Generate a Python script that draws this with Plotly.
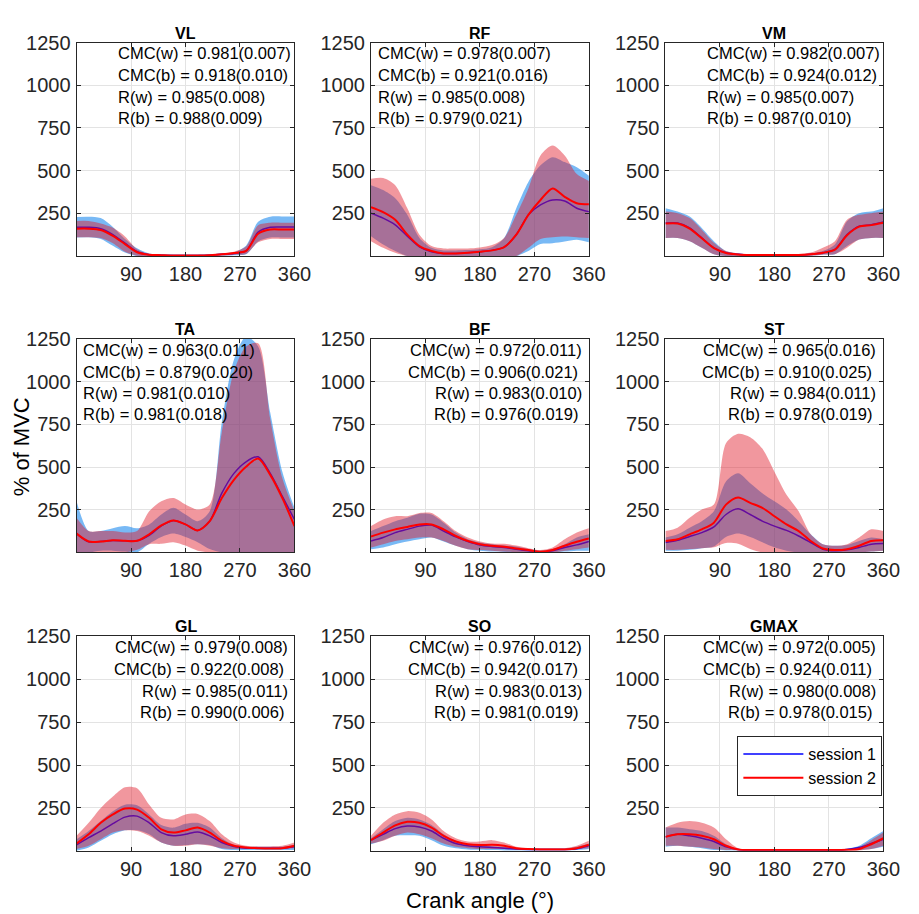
import plotly.graph_objects as go

# ---------------- data ----------------
ANGLE = [0, 20, 40, 60, 80, 100, 120, 140, 160, 180, 200, 220, 240, 260, 280, 300, 320, 340, 360]
MUSCLES = ["VL", "RF", "VM", "TA", "BF", "ST", "GL", "SO", "GMAX"]
X_TICKS = [90, 180, 270, 360]
Y_TICKS = [250, 500, 750, 1000, 1250]
SESSION_NAMES = ["session 1", "session 2"]

VL_S1_MEAN = [168, 168, 160, 125, 75, 25, 8, 5, 3, 3, 3, 5, 10, 15, 30, 140, 168, 170, 170]
VL_S1_UP = [228, 230, 222, 170, 100, 45, 15, 10, 8, 8, 8, 10, 15, 22, 60, 200, 230, 232, 232]
VL_S1_LO = [108, 110, 100, 60, 20, 0, 0, 0, 0, 0, 0, 0, 2, 5, 10, 85, 108, 108, 108]
VL_S2_MEAN = [160, 160, 152, 118, 70, 22, 7, 5, 3, 3, 3, 5, 10, 18, 30, 130, 155, 155, 155]
VL_S2_UP = [205, 205, 190, 165, 115, 40, 12, 8, 6, 6, 6, 10, 15, 25, 55, 180, 195, 195, 195]
VL_S2_LO = [110, 110, 105, 75, 25, 2, 0, 0, 0, 0, 0, 0, 3, 8, 12, 80, 100, 100, 100]

RF_S1_MEAN = [251, 222, 183, 116, 54, 25, 15, 15, 19, 25, 33, 52, 125, 241, 299, 328, 322, 280, 260]
RF_S1_UP = [415, 386, 338, 241, 106, 48, 33, 33, 35, 40, 52, 106, 280, 434, 531, 579, 550, 520, 470]
RF_S1_LO = [116, 67, 29, 0, 0, 0, 0, 0, 0, 0, 0, 0, 0, 29, 70, 75, 85, 95, 80]
RF_S2_MEAN = [286, 257, 212, 125, 58, 29, 15, 15, 19, 25, 33, 52, 125, 241, 328, 396, 347, 309, 303]
RF_S2_UP = [453, 457, 415, 280, 125, 58, 44, 44, 44, 50, 64, 106, 241, 396, 589, 647, 589, 480, 440]
RF_S2_LO = [87, 48, 19, 0, 0, 0, 0, 0, 0, 0, 0, 0, 0, 48, 100, 110, 115, 110, 105]

VM_S1_MEAN = [193, 193, 164, 106, 48, 19, 10, 6, 6, 6, 6, 6, 10, 19, 39, 125, 174, 183, 199]
VM_S1_UP = [280, 260, 231, 164, 87, 29, 15, 10, 10, 10, 10, 10, 15, 29, 67, 203, 251, 260, 280]
VM_S1_LO = [106, 106, 87, 48, 10, 0, 0, 0, 0, 0, 0, 0, 2, 8, 10, 58, 96, 106, 106]
VM_S2_MEAN = [190, 190, 160, 104, 46, 18, 9, 6, 6, 6, 6, 6, 10, 19, 37, 122, 172, 181, 195]
VM_S2_UP = [260, 251, 222, 154, 77, 29, 15, 10, 10, 10, 10, 12, 20, 48, 87, 212, 241, 251, 260]
VM_S2_LO = [106, 106, 87, 48, 10, 0, 0, 0, 0, 0, 0, 0, 2, 8, 10, 48, 96, 106, 106]

TA_S1_MEAN = [110, 62, 64, 70, 68, 68, 100, 155, 187, 164, 129, 183, 347, 463, 531, 560, 463, 328, 193]
TA_S1_UP = [299, 125, 125, 141, 154, 141, 164, 222, 261, 222, 183, 241, 762, 1129, 1264, 1206, 820, 473, 261]
TA_S1_LO = [0, 0, 10, 10, 5, 0, 50, 90, 110, 90, 60, 20, 0, 0, 0, 0, 0, 0, 0]
TA_S2_MEAN = [110, 64, 64, 71, 68, 68, 106, 158, 187, 164, 129, 183, 318, 425, 502, 550, 454, 318, 154]
TA_S2_UP = [203, 125, 125, 125, 116, 125, 241, 299, 318, 280, 251, 280, 704, 1061, 1206, 1225, 781, 434, 241]
TA_S2_LO = [0, 0, 0, 0, 0, 15, 48, 50, 60, 40, 10, 0, 0, 0, 0, 0, 0, 0, 0]

BF_S1_MEAN = [67, 87, 116, 135, 154, 160, 125, 91, 64, 44, 35, 29, 19, 10, 3, 10, 29, 44, 64]
BF_S1_UP = [125, 154, 183, 203, 226, 222, 174, 116, 77, 58, 48, 40, 35, 20, 10, 20, 48, 87, 106]
BF_S1_LO = [19, 29, 48, 64, 77, 87, 64, 39, 19, 10, 5, 3, 0, 0, 0, 0, 5, 10, 10]
BF_S2_MEAN = [93, 116, 135, 149, 164, 164, 135, 96, 67, 48, 39, 33, 23, 14, 4, 14, 39, 62, 81]
BF_S2_UP = [154, 193, 212, 212, 231, 231, 183, 125, 87, 64, 52, 50, 40, 25, 14, 29, 77, 116, 141]
BF_S2_LO = [29, 48, 67, 77, 87, 87, 67, 39, 19, 14, 10, 5, 2, 0, 0, 0, 10, 19, 29]

ST_S1_MEAN = [58, 71, 93, 116, 149, 222, 255, 222, 183, 154, 129, 96, 58, 19, 10, 15, 29, 48, 52]
ST_S1_UP = [87, 106, 145, 183, 241, 415, 463, 405, 347, 299, 251, 183, 106, 48, 39, 44, 67, 87, 77]
ST_S1_LO = [10, 10, 15, 25, 35, 90, 110, 90, 60, 30, 10, 0, 0, 0, 0, 0, 0, 5, 10]
ST_S2_MEAN = [67, 77, 106, 135, 174, 280, 322, 290, 261, 212, 164, 125, 67, 23, 14, 19, 39, 67, 71]
ST_S2_UP = [125, 145, 203, 251, 280, 640, 695, 675, 608, 473, 338, 241, 106, 48, 39, 48, 87, 135, 125]
ST_S2_LO = [15, 15, 20, 25, 30, 55, 50, 20, 0, 0, 0, 0, 0, 0, 0, 0, 0, 5, 10]

GL_S1_MEAN = [35, 77, 115, 158, 196, 202, 163, 106, 87, 96, 110, 87, 48, 25, 15, 15, 15, 15, 23]
GL_S1_UP = [67, 115, 173, 231, 269, 265, 212, 150, 135, 158, 163, 135, 73, 35, 23, 23, 23, 23, 35]
GL_S1_LO = [0, 19, 58, 96, 119, 119, 96, 48, 29, 33, 38, 33, 10, 4, 4, 4, 4, 4, 4]
GL_S2_MEAN = [42, 96, 163, 212, 246, 240, 192, 125, 106, 119, 135, 106, 58, 29, 19, 15, 13, 15, 29]
GL_S2_UP = [87, 163, 250, 317, 371, 365, 269, 192, 183, 212, 215, 173, 96, 48, 29, 25, 25, 29, 48]
GL_S2_LO = [10, 29, 67, 106, 119, 115, 87, 48, 29, 29, 38, 29, 15, 10, 10, 10, 10, 10, 15]

SO_S1_MEAN = [62, 96, 129, 144, 138, 115, 73, 42, 29, 23, 19, 15, 10, 8, 8, 8, 8, 12, 29]
SO_S1_UP = [73, 125, 173, 192, 183, 150, 96, 58, 38, 31, 27, 23, 13, 12, 12, 12, 12, 23, 42]
SO_S1_LO = [38, 62, 87, 90, 87, 62, 29, 15, 8, 6, 4, 2, 2, 2, 2, 2, 2, 4, 10]
SO_S2_MEAN = [62, 106, 148, 169, 163, 135, 87, 54, 38, 33, 35, 29, 15, 10, 8, 8, 8, 15, 35]
SO_S2_UP = [87, 163, 212, 231, 221, 183, 115, 73, 54, 54, 62, 48, 23, 15, 15, 15, 15, 29, 58]
SO_S2_LO = [42, 58, 87, 106, 96, 73, 42, 23, 15, 10, 10, 10, 5, 5, 5, 5, 5, 10, 15]

GMAX_S1_MEAN = [81, 96, 87, 73, 54, 23, 8, 4, 4, 4, 4, 4, 4, 4, 4, 8, 19, 42, 67]
GMAX_S1_UP = [135, 135, 125, 115, 87, 38, 10, 6, 6, 6, 6, 6, 6, 6, 6, 12, 29, 73, 115]
GMAX_S1_LO = [23, 29, 23, 15, 4, 2, 2, 2, 2, 2, 2, 2, 2, 2, 2, 2, 4, 10, 23]
GMAX_S2_MEAN = [81, 96, 96, 87, 67, 29, 8, 4, 4, 4, 4, 4, 4, 4, 4, 6, 10, 38, 73]
GMAX_S2_UP = [135, 163, 173, 163, 135, 67, 15, 6, 6, 6, 6, 6, 6, 6, 6, 8, 23, 62, 106]
GMAX_S2_LO = [29, 29, 23, 19, 10, 4, 2, 2, 2, 2, 2, 2, 2, 2, 2, 2, 2, 10, 29]

VL_STATS = ["CMC(w) = 0.981(0.007)", "CMC(b) = 0.918(0.010)", "R(w) = 0.985(0.008)", "R(b) = 0.988(0.009)"]
RF_STATS = ["CMC(w) = 0.978(0.007)", "CMC(b) = 0.921(0.016)", "R(w) = 0.985(0.008)", "R(b) = 0.979(0.021)"]
VM_STATS = ["CMC(w) = 0.982(0.007)", "CMC(b) = 0.924(0.012)", "R(w) = 0.985(0.007)", "R(b) = 0.987(0.010)"]
TA_STATS = ["CMC(w) = 0.963(0.011)", "CMC(b) = 0.879(0.020)", "R(w) = 0.981(0.010)", "R(b) = 0.981(0.018)"]
BF_STATS = ["CMC(w) = 0.972(0.011)", "CMC(b) = 0.906(0.021)", "R(w) = 0.983(0.010)", "R(b) = 0.976(0.019)"]
ST_STATS = ["CMC(w) = 0.965(0.016)", "CMC(b) = 0.910(0.025)", "R(w) = 0.984(0.011)", "R(b) = 0.978(0.019)"]
GL_STATS = ["CMC(w) = 0.979(0.008)", "CMC(b) = 0.922(0.008)", "R(w) = 0.985(0.011)", "R(b) = 0.990(0.006)"]
SO_STATS = ["CMC(w) = 0.976(0.012)", "CMC(b) = 0.942(0.017)", "R(w) = 0.983(0.013)", "R(b) = 0.981(0.019)"]
GMAX_STATS = ["CMC(w) = 0.972(0.005)", "CMC(b) = 0.924(0.011)", "R(w) = 0.980(0.008)", "R(b) = 0.978(0.015)"]

PANELS = {
    "VL": (VL_S1_MEAN, VL_S1_UP, VL_S1_LO, VL_S2_MEAN, VL_S2_UP, VL_S2_LO, VL_STATS),
    "RF": (RF_S1_MEAN, RF_S1_UP, RF_S1_LO, RF_S2_MEAN, RF_S2_UP, RF_S2_LO, RF_STATS),
    "VM": (VM_S1_MEAN, VM_S1_UP, VM_S1_LO, VM_S2_MEAN, VM_S2_UP, VM_S2_LO, VM_STATS),
    "TA": (TA_S1_MEAN, TA_S1_UP, TA_S1_LO, TA_S2_MEAN, TA_S2_UP, TA_S2_LO, TA_STATS),
    "BF": (BF_S1_MEAN, BF_S1_UP, BF_S1_LO, BF_S2_MEAN, BF_S2_UP, BF_S2_LO, BF_STATS),
    "ST": (ST_S1_MEAN, ST_S1_UP, ST_S1_LO, ST_S2_MEAN, ST_S2_UP, ST_S2_LO, ST_STATS),
    "GL": (GL_S1_MEAN, GL_S1_UP, GL_S1_LO, GL_S2_MEAN, GL_S2_UP, GL_S2_LO, GL_STATS),
    "SO": (SO_S1_MEAN, SO_S1_UP, SO_S1_LO, SO_S2_MEAN, SO_S2_UP, SO_S2_LO, SO_STATS),
    "GMAX": (GMAX_S1_MEAN, GMAX_S1_UP, GMAX_S1_LO, GMAX_S2_MEAN, GMAX_S2_UP, GMAX_S2_LO, GMAX_STATS),
}

# ---------------- styling ----------------
W, H = 919, 914
FONT = "Liberation Sans, Arial, Helvetica, sans-serif"
TXT = "#262626"
# positions measured in page pixels of the reference
COL_X_PX = [(78, 300), (378, 600), (678, 900)]
ROW_Y_PX = [(32, 248), (332, 548), (633, 850)]
STATS_ALIGN = {"VL": ("left", 40), "RF": ("left", 5), "VM": ("left", 40), "TA": ("left", 5)}


def px_x(p):
    return p / W


def px_y(p):
    return 1 - p / H


S1_LINE, S2_LINE = "#0000ff", "#ff0000"
S1_FILL, S2_FILL = "rgba(10,128,237,0.55)", "rgba(225,25,40,0.45)"

fig = go.Figure()
annotations = []
layout_axes = {}

for i, m in enumerate(MUSCLES):
    r, c = divmod(i, 3)
    idx = "" if i == 0 else str(i + 1)
    xa, ya = "x" + idx, "y" + idx
    s1m, s1u, s1l, s2m, s2u, s2l, stats = PANELS[m]
    x0, x1 = COL_X_PX[c]
    y0, y1 = ROW_Y_PX[r]
    layout_axes["xaxis" + idx] = dict(
        domain=[px_x(x0), px_x(x1)], anchor=ya, range=[0, 360], tickvals=X_TICKS,
        showgrid=True, gridcolor="#e3e3e3", gridwidth=1, zeroline=False,
        showline=True, mirror="allticks", linecolor=TXT, linewidth=1,
        ticks="inside", ticklen=4, tickcolor=TXT,
        tickfont=dict(size=20, color=TXT, family=FONT), ticklabelstandoff=0,
    )
    layout_axes["yaxis" + idx] = dict(
        domain=[px_y(y1), px_y(y0)], anchor=xa, range=[0, 1250], tickvals=Y_TICKS,
        showgrid=True, gridcolor="#e3e3e3", gridwidth=1, zeroline=False,
        showline=True, mirror="allticks", linecolor=TXT, linewidth=1,
        ticks="inside", ticklen=4, tickcolor=TXT,
        tickfont=dict(size=20, color=TXT, family=FONT), ticklabelstandoff=1,
    )
    show = (m == "GMAX")
    for (mean, up, lo, lc, fc, lw, name) in [
        (s1m, s1u, s1l, S1_LINE, S1_FILL, 1.5, SESSION_NAMES[0]),
        (s2m, s2u, s2l, S2_LINE, S2_FILL, 2, SESSION_NAMES[1]),
    ]:
        fig.add_trace(go.Scatter(x=ANGLE, y=lo, xaxis=xa, yaxis=ya, mode="lines",
                                 line=dict(width=0, shape="spline", smoothing=0.8),
                                 showlegend=False, hoverinfo="skip"))
        fig.add_trace(go.Scatter(x=ANGLE, y=up, xaxis=xa, yaxis=ya, mode="lines",
                                 line=dict(width=0, shape="spline", smoothing=0.8),
                                 fill="tonexty", fillcolor=fc,
                                 showlegend=False, hoverinfo="skip"))
        fig.add_trace(go.Scatter(x=ANGLE, y=mean, xaxis=xa, yaxis=ya, mode="lines",
                                 line=dict(color=lc, width=lw, shape="spline", smoothing=0.8),
                                 name=name, showlegend=show))
    # title
    annotations.append(dict(text="<b>%s</b>" % m, xref=xa + " domain", yref=ya + " domain",
                            x=0.5, y=1, xanchor="center", yanchor="bottom", yshift=-1,
                            showarrow=False, font=dict(size=16, color="#000000", family=FONT)))
    # stats
    ys = [0.949, 0.847, 0.745, 0.648]
    align = STATS_ALIGN.get(m, ("right", 5))
    for k, t in enumerate(stats):
        if align[0] == "left":
            ann = dict(x=align[1] / 222.0, xanchor="left", xshift=0)
        else:
            ann = dict(x=1 - align[1] / 222.0, xanchor="right", xshift=(-4 if k % 2 else 0))
        ann.update(text=t, xref=xa + " domain", yref=ya + " domain", y=ys[k], yanchor="middle",
                   showarrow=False, font=dict(size=16.5, color="#000000", family=FONT))
        annotations.append(ann)

annotations.append(dict(text="% of MVC", xref="paper", yref="paper", x=px_x(22), y=px_y(441),
                        xanchor="center", yanchor="middle", textangle=-90, showarrow=False,
                        font=dict(size=22, color="#000000", family=FONT)))
annotations.append(dict(text="Crank angle (°)", xref="paper", yref="paper", x=px_x(489), y=px_y(900),
                        xanchor="center", yanchor="middle", showarrow=False,
                        font=dict(size=22, color="#000000", family=FONT)))

fig.update_layout(
    width=W, height=H, margin=dict(l=0, r=0, t=0, b=0),
    paper_bgcolor="white", plot_bgcolor="white",
    font=dict(family=FONT, color=TXT),
    annotations=annotations,
    showlegend=True,
    legend=dict(x=px_x(899), y=px_y(734), xanchor="right", yanchor="top",
                bgcolor="white", bordercolor=TXT, borderwidth=1, traceorder="normal",
                font=dict(size=16, color="#000000", family=FONT),
                itemwidth=60, tracegroupgap=0),
    **layout_axes,
)

fig.write_html("out.html", config={"displayModeBar": False},
               post_script="document.body.style.margin='0px';document.body.style.overflow='hidden';")
